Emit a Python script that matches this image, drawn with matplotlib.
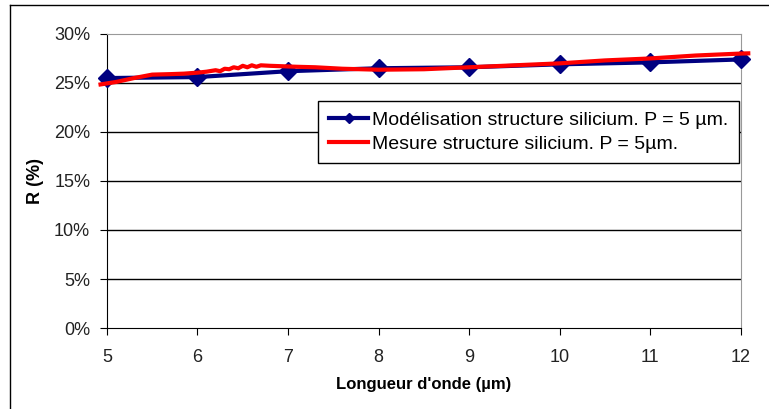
import matplotlib
matplotlib.use('Agg')
import matplotlib.pyplot as plt
from matplotlib.lines import Line2D
from matplotlib.ticker import PercentFormatter

plt.rcParams['font.family'] = ['Liberation Sans', 'DejaVu Sans']

# Model (blue, diamonds)
model_x = [5, 6, 7, 8, 9, 10, 11, 12]
model_r = [25.5, 25.6, 26.2, 26.5, 26.6, 26.9, 27.1, 27.4]

# Measurement (red)
mes_x = [4.93, 5.1, 5.3, 5.5, 5.7, 5.85, 6.0, 6.1, 6.2, 6.25, 6.3, 6.35, 6.4, 6.45,
         6.5, 6.55, 6.6, 6.65, 6.7, 6.8, 6.95, 7.1, 7.3, 7.6, 8.0, 8.5, 9.0,
         9.5, 10.0, 10.5, 11.0, 11.5, 12.0, 12.08]
mes_r = [24.85, 25.1, 25.5, 25.85, 25.9, 25.95, 26.05, 26.15, 26.3, 26.2, 26.45, 26.4,
         26.6, 26.5, 26.75, 26.6, 26.8, 26.65, 26.8, 26.75, 26.7, 26.65, 26.6, 26.45,
         26.35, 26.4, 26.6, 26.8, 27.0, 27.3, 27.5, 27.8, 28.0, 28.02]

fig = plt.figure(figsize=(7.69, 4.09), dpi=100)
ax = fig.add_axes([0.139, 0.198, 0.8246, 0.719])

for v in [5, 10, 15, 20, 25]:
    ax.axhline(v, color='black', lw=1, zorder=1)

ax.plot(model_x, model_r, color='#000080', lw=3, marker='D', ms=9,
        label='Modélisation structure silicium. P = 5 µm.', zorder=3, clip_on=False)
ax.plot(mes_x, mes_r, color='#ff0000', lw=3,
        label='Mesure structure silicium. P = 5µm.', zorder=4, clip_on=False)

ax.set_xlim(5, 12)
ax.set_ylim(0, 30)
ax.set_xticks(range(5, 13))
ax.set_yticks(range(0, 31, 5))
ax.yaxis.set_major_formatter(PercentFormatter(decimals=0))
ax.tick_params(direction='out', length=5, labelsize=13, colors='black', labelcolor='#222222')
ax.tick_params(axis='x', pad=10)
ax.tick_params(axis='y', pad=7)

for s in ['top', 'right']:
    ax.spines[s].set_color('#999999')
for s in ['left', 'bottom']:
    ax.spines[s].set_color('black')

ax.set_xlabel("Longueur d'onde (µm)", fontsize=12, fontweight='bold', labelpad=8)
ax.set_ylabel('R (%)', fontsize=13, fontweight='bold', labelpad=7)

leg = ax.legend(loc='upper right', bbox_to_anchor=(0.9965, 0.772), fontsize=14,
                frameon=True, fancybox=False, edgecolor='black', framealpha=1,
                handlelength=2.0, borderpad=0.55, labelspacing=0.3, handletextpad=0.2,
                borderaxespad=0, markerscale=0.6)
leg.get_frame().set_linewidth(1)

# outer chart frame
fig.add_artist(Line2D([10 / 769, 10 / 769], [0, 1 - 5 / 409], color='black', lw=1))
fig.add_artist(Line2D([10 / 769, 1], [1 - 5 / 409, 1 - 5 / 409], color='black', lw=1))

fig.savefig('out.png', dpi=100)
